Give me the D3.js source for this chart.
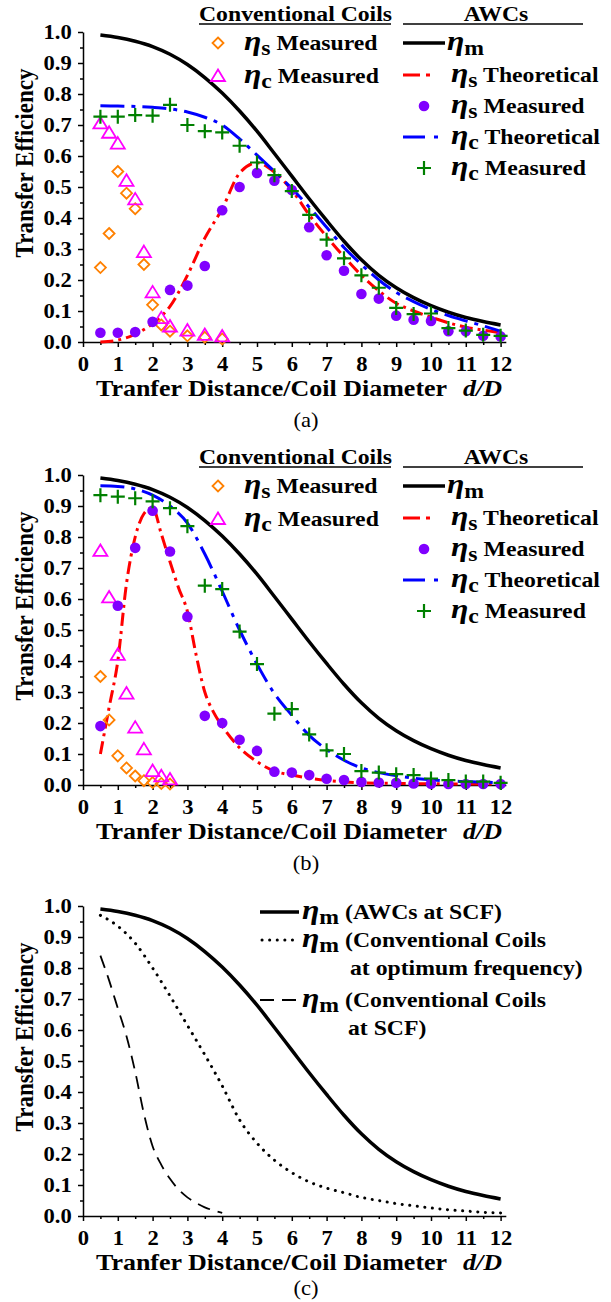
<!DOCTYPE html>
<html lang="en">
<head>
<meta charset="utf-8">
<title>Transfer Efficiency</title>
<script src="https://d3js.org/d3.v7.min.js"></script>
<style>
  body { margin: 0; background: #fff; }
  svg { display: block; }
  text { white-space: pre; }
</style>
</head>
<body>
<script>
// ---- data ----
var dHalf = [0.5,1,1.5,2,2.5,3,3.5,4,4.5,5,5.5,6,6.5,7,7.5,8,8.5,9,9.5,10,10.5,11,11.5,12];
var xTicks = [0,1,2,3,4,5,6,7,8,9,10,11,12];
var yTicks = [0,0.1,0.2,0.3,0.4,0.5,0.6,0.7,0.8,0.9,1.0];

// AWCs eta_m (same curve in all three panels)
var etaM = [0.99,0.982,0.97,0.953,0.928,0.895,0.853,0.803,0.745,0.68,0.608,0.535,0.462,0.392,0.325,0.265,0.215,0.175,0.143,0.117,0.096,0.079,0.066,0.055];

// panel (a)
var aRedS    = [0.0,0.006,0.025,0.06,0.115,0.215,0.335,0.43,0.545,0.578,0.548,0.49,0.41,0.34,0.275,0.215,0.165,0.125,0.1,0.08,0.062,0.048,0.038,0.03];
var aBlueC   = [0.762,0.761,0.76,0.757,0.752,0.742,0.725,0.70,0.655,0.603,0.55,0.495,0.435,0.37,0.305,0.25,0.2,0.16,0.13,0.105,0.085,0.068,0.052,0.035];
var aPurpleS = [0.03,0.03,0.032,0.065,0.168,0.182,0.245,0.425,0.5,0.545,0.52,0.49,0.37,0.28,0.23,0.155,0.14,0.085,0.072,0.068,0.035,0.035,0.02,0.018];
var aGreenC  = [0.727,0.727,0.732,0.73,0.765,0.70,0.68,0.676,0.633,0.579,0.538,0.487,0.41,0.33,0.27,0.215,0.175,0.11,0.09,0.092,0.045,0.037,0.023,0.02];
var aConvX   = [0.5,0.75,1,1.25,1.5,1.75,2,2.25,2.5,3,3.5,4];
var aConvS   = [0.24,0.35,0.55,0.48,0.43,0.25,0.12,0.055,0.035,0.02,0.015,0.01];
var aConvC   = [0.705,0.675,0.64,0.52,0.46,0.29,0.16,0.077,0.05,0.037,0.023,0.018];

// panel (b)
var bRedX    = [0.5,0.75,1,1.25,1.5,1.75,2,2.25,2.5,2.75,3,3.25,3.5,3.75,4,4.5,5,5.5,6,6.5,7,7.5,8,9,10,11,12];
var bRedS    = [0.1,0.25,0.4,0.65,0.8,0.875,0.895,0.81,0.72,0.635,0.56,0.42,0.3,0.235,0.19,0.12,0.075,0.045,0.032,0.022,0.015,0.01,0.007,0.005,0.004,0.003,0.003];
var bBlueC   = [0.965,0.963,0.955,0.935,0.9,0.845,0.745,0.625,0.5,0.39,0.295,0.225,0.16,0.115,0.08,0.055,0.04,0.03,0.022,0.017,0.013,0.011,0.009,0.008];
var bPurpleS = [0.19,0.578,0.765,0.885,0.753,0.543,0.223,0.2,0.146,0.11,0.043,0.04,0.032,0.02,0.016,0.01,0.008,0.007,0.005,0.004,0.003,0.003,0.003,0.003];
var bGreenC  = [0.935,0.93,0.925,0.915,0.893,0.835,0.643,0.632,0.495,0.39,0.23,0.245,0.163,0.112,0.1,0.045,0.04,0.035,0.032,0.021,0.016,0.011,0.011,0.007];
var bConvX   = [0.5,0.75,1,1.25,1.5,1.75,2,2.25,2.5];
var bConvS   = [0.35,0.21,0.094,0.055,0.029,0.014,0.008,0.005,0.003];
var bConvC   = [0.755,0.605,0.42,0.295,0.185,0.115,0.045,0.028,0.018];

// panel (c)
var cConvOpt = [0.97,0.935,0.88,0.8,0.71,0.615,0.52,0.42,0.31,0.235,0.18,0.14,0.11,0.09,0.075,0.06,0.05,0.04,0.033,0.026,0.02,0.016,0.012,0.01];
var cConvX   = [0.5,0.75,1,1.25,1.5,1.75,2,2.25,2.5,2.75,3,3.25,3.5,3.75,4];
var cConvScf = [0.84,0.76,0.67,0.58,0.465,0.33,0.225,0.165,0.12,0.085,0.06,0.042,0.028,0.018,0.01];

var SERIF = "'Liberation Serif', 'Times New Roman', serif";
var SX = 1.13;   // the figure text is a bit wider than plain Times
var ORANGE = "#ff8000", MAGENTA = "#ff00ff", PURPLE = "#8000ff", GREEN = "#008000";

var svg = d3.select("body").append("svg")
    .attr("width", 611).attr("height", 1302)
    .style("background", "#fff");

function pts(xs, ys) {
    return xs.map(function(d, i) { return [d, ys[i]]; });
}

// plain text, stretched horizontally around its anchor point
function txt(g, x, y, s, size, opts) {
    opts = opts || {};
    var t = g.append("text")
        .attr("transform", "translate(" + x + "," + y + ") scale(" + SX + ",1)" + (opts.rotate ? " rotate(" + opts.rotate + ")" : ""))
        .attr("font-family", SERIF)
        .attr("font-size", size)
        .attr("font-weight", opts.weight || "bold")
        .attr("text-anchor", opts.anchor || "start")
        .text(s);
    return t;
}

// "eta_sub rest" legend label
function etaLabel(g, x, y, sub, rest) {
    var t = g.append("text")
        .attr("transform", "translate(" + x + "," + y + ") scale(" + SX + ",1)")
        .attr("font-family", SERIF).attr("font-weight", "bold").attr("font-size", 21);
    t.append("tspan").attr("font-style", "italic").attr("font-size", 28).text("\u03B7");
    t.append("tspan").attr("dy", 5).text(sub);
    if (rest) t.append("tspan").attr("dy", -5).text(rest);
    return t;
}

function makePanel(y0, y1, caption, capY) {
    var g = svg.append("g");
    var x = d3.scaleLinear().domain([0, 12.15]).range([83, 83 + 12.15 * 34.8]);
    var y = d3.scaleLinear().domain([0, 1]).range([y0, y1]);

    // minor ticks
    g.append("g").attr("transform", "translate(0," + y0 + ")")
        .call(d3.axisBottom(x).tickValues(d3.range(0.5, 12.1, 1)).tickSize(3).tickFormat(""))
        .call(function(s) { s.select(".domain").remove(); });
    g.append("g").attr("transform", "translate(83,0)")
        .call(d3.axisLeft(y).tickValues(d3.range(0.05, 1, 0.1)).tickSize(3).tickFormat(""))
        .call(function(s) { s.select(".domain").remove(); });

    var gx = g.append("g").attr("transform", "translate(0," + y0 + ")")
        .call(d3.axisBottom(x).tickValues(xTicks).tickFormat(d3.format("d"))
            .tickSizeInner(5).tickSizeOuter(0).tickPadding(10));
    var gy = g.append("g").attr("transform", "translate(83,0)")
        .call(d3.axisLeft(y).tickValues(yTicks).tickFormat(d3.format(".1f"))
            .tickSizeInner(5).tickSizeOuter(0).tickPadding(5));

    g.selectAll(".tick line, .domain").attr("stroke", "#000").attr("stroke-width", 1.5);
    [gx, gy].forEach(function(a) {
        a.selectAll("text")
            .attr("font-family", SERIF).attr("font-weight", "bold").attr("font-size", 20)
            .attr("fill", "#000")
            .attr("transform", "scale(" + SX + ",1)");
    });
    gx.selectAll("text").attr("x", 0);

    // axis titles
    txt(g, 33, y0 - 179, "Transfer Efficiency", 23, { anchor: "middle", rotate: -90 });
    txt(g, 96, y0 + 54, "Tranfer Distance/Coil Diameter", 23);
    txt(g, 463, y0 + 54, "d/D", 23).attr("font-style", "italic");
    txt(g, 306, capY, caption, 20, { anchor: "middle", weight: "normal" });

    return { g: g, x: x, y: y };
}

function linePath(p, data, color, width, dash, cap) {
    var line = d3.line()
        .x(function(d) { return p.x(d[0]); })
        .y(function(d) { return p.y(d[1]); })
        .curve(d3.curveMonotoneX);
    p.g.append("path").datum(data)
        .attr("d", line)
        .attr("fill", "none")
        .attr("stroke", color)
        .attr("stroke-width", width)
        .attr("stroke-dasharray", dash || null)
        .attr("stroke-linecap", cap || "butt");
}

var diamond = "M0,-5.5L5.5,0L0,5.5L-5.5,0Z";
var triangle = "M0,-6.5L7,5L-7,5Z";
var plus = "M-7,0H7M0,-7V7";

function markers(p, data, shape, stroke, fill, width) {
    p.g.append("g").selectAll("path").data(data).enter().append("path")
        .attr("transform", function(d) { return "translate(" + p.x(d[0]) + "," + p.y(d[1]) + ")"; })
        .attr("d", shape)
        .attr("fill", fill || "none")
        .attr("stroke", stroke)
        .attr("stroke-width", width || 1.8);
}

function dots(p, data, color) {
    p.g.append("g").selectAll("circle").data(data).enter().append("circle")
        .attr("cx", function(d) { return p.x(d[0]); })
        .attr("cy", function(d) { return p.y(d[1]); })
        .attr("r", 5.3)
        .attr("fill", color);
}

var RED_DASH = "13,5,3,5";
var BLUE_DASH = "24,7,4,7";

function compareLegend(p, y1) {
    var g = p.g;
    // headers
    txt(g, 199, y1 - 11, "Conventional Coils", 21);
    g.append("line").attr("x1", 199).attr("x2", 391).attr("y1", y1 - 8).attr("y2", y1 - 8)
        .attr("stroke", "#000").attr("stroke-width", 1.6);
    txt(g, 496, y1 - 11, "AWCs", 21, { anchor: "middle" });
    g.append("line").attr("x1", 403).attr("x2", 583).attr("y1", y1 - 8).attr("y2", y1 - 8)
        .attr("stroke", "#000").attr("stroke-width", 1.6);

    // conventional coils column
    g.append("path").attr("transform", "translate(218," + (y1 + 11) + ")").attr("d", diamond)
        .attr("fill", "none").attr("stroke", ORANGE).attr("stroke-width", 1.8);
    etaLabel(g, 244, y1 + 18, "s", " Measured");
    g.append("path").attr("transform", "translate(218," + (y1 + 44) + ")").attr("d", triangle)
        .attr("fill", "none").attr("stroke", MAGENTA).attr("stroke-width", 1.8);
    etaLabel(g, 244, y1 + 51, "c", " Measured");

    // AWCs column
    var rows = [y1 + 11, y1 + 43, y1 + 74, y1 + 105, y1 + 136];
    g.append("line").attr("x1", 403).attr("x2", 445).attr("y1", rows[0]).attr("y2", rows[0])
        .attr("stroke", "#000").attr("stroke-width", 3.5);
    etaLabel(g, 447, rows[0] + 7, "m");
    g.append("line").attr("x1", 403).attr("x2", 445).attr("y1", rows[1]).attr("y2", rows[1])
        .attr("stroke", "red").attr("stroke-width", 3).attr("stroke-dasharray", "17,6,4,20");
    etaLabel(g, 451, rows[1] + 7, "s", " Theoretical");
    g.append("circle").attr("cx", 424).attr("cy", rows[2]).attr("r", 5.3).attr("fill", PURPLE);
    etaLabel(g, 451, rows[2] + 7, "s", " Measured");
    g.append("line").attr("x1", 403).attr("x2", 445).attr("y1", rows[3]).attr("y2", rows[3])
        .attr("stroke", "blue").attr("stroke-width", 3).attr("stroke-dasharray", "22,9,4,20");
    etaLabel(g, 451, rows[3] + 7, "c", " Theoretical");
    g.append("path").attr("transform", "translate(424," + rows[4] + ")").attr("d", plus)
        .attr("fill", "none").attr("stroke", GREEN).attr("stroke-width", 2.2);
    etaLabel(g, 451, rows[4] + 7, "c", " Measured");
}

// ---- (a) ----
var pa = makePanel(342, 32, "(a)", 427);
linePath(pa, pts(dHalf, etaM), "#000", 3.5);
linePath(pa, pts(dHalf, aRedS), "red", 3, RED_DASH);
linePath(pa, pts(dHalf, aBlueC), "blue", 3, BLUE_DASH);
markers(pa, pts(aConvX, aConvS), diamond, ORANGE);
markers(pa, pts(aConvX, aConvC), triangle, MAGENTA);
dots(pa, pts(dHalf, aPurpleS), PURPLE);
markers(pa, pts(dHalf, aGreenC), plus, GREEN, null, 2.2);
compareLegend(pa, 32);

// ---- (b) ----
var pb = makePanel(785, 475, "(b)", 870);
linePath(pb, pts(dHalf, etaM), "#000", 3.5);
linePath(pb, pts(bRedX, bRedS), "red", 3, RED_DASH);
linePath(pb, pts(dHalf, bBlueC), "blue", 3, BLUE_DASH);
markers(pb, pts(bConvX, bConvS), diamond, ORANGE);
markers(pb, pts(bConvX, bConvC), triangle, MAGENTA);
dots(pb, pts(dHalf, bPurpleS), PURPLE);
markers(pb, pts(dHalf, bGreenC), plus, GREEN, null, 2.2);
compareLegend(pb, 475);

// ---- (c) ----
var pc = makePanel(1216, 906, "(c)", 1295);
linePath(pc, pts(dHalf, etaM), "#000", 3.5);
linePath(pc, pts(dHalf, cConvOpt), "#000", 3, "0.1,7.5", "round");
linePath(pc, pts(cConvX, cConvScf), "#000", 1.8, "13,8");

var lc = pc.g;
var crow = [912, 940, 1000];
lc.append("line").attr("x1", 260).attr("x2", 299).attr("y1", crow[0]).attr("y2", crow[0])
    .attr("stroke", "#000").attr("stroke-width", 3.5);
etaLabel(lc, 302, crow[0] + 7, "m", " (AWCs at SCF)");
lc.append("line").attr("x1", 262).attr("x2", 299).attr("y1", crow[1]).attr("y2", crow[1])
    .attr("stroke", "#000").attr("stroke-width", 3).attr("stroke-dasharray", "0.1,7.5").attr("stroke-linecap", "round");
etaLabel(lc, 302, crow[1] + 7, "m", " (Conventional Coils");
txt(lc, 350, crow[1] + 35, "at optimum frequency)", 21);
lc.append("line").attr("x1", 260).attr("x2", 299).attr("y1", crow[2]).attr("y2", crow[2])
    .attr("stroke", "#000").attr("stroke-width", 1.8).attr("stroke-dasharray", "14,8");
etaLabel(lc, 302, crow[2] + 7, "m", " (Conventional Coils");
txt(lc, 348, crow[2] + 35, "at SCF)", 21);
</script>
</body>
</html>
